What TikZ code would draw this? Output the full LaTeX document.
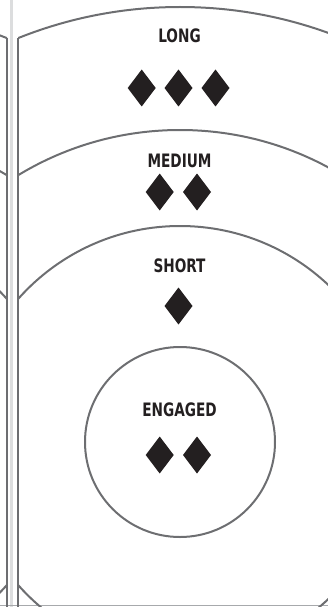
\documentclass[tikz,border=0pt]{standalone}
\usepackage{fontspec}
\newfontfamily\lblfont{DejaVu Sans Condensed}[FakeStretch=0.82]
\definecolor{edgegray}{HTML}{6D6E71}
\definecolor{ink}{HTML}{231F20}
\definecolor{bandgray}{HTML}{DCDDDE}
\definecolor{rulegray}{HTML}{A7A9AC}
\begin{document}
\begin{tikzpicture}[x=1pt,y=-1pt,
  edge/.style={draw=edgegray,line width=2pt},
  lbl/.style={font=\lblfont\bfseries\fontsize{18.5}{18.5}\selectfont,text=ink,anchor=base,inner sep=0pt},
  dia/.pic={\fill[ink] (0,-18.5)--(14,0)--(0,18.5)--(-14,0)--cycle;}]
\useasboundingbox (0,0) rectangle (328,607);
% light gray band and bottom rule
\fill[bandgray] (10,0) rectangle (13,607);
\draw[rulegray,line width=1pt] (0,605.5) -- (328,605.5);
% main panel
\coordinate (c) at (180,442);
\coordinate (ltop) at (18,38.3);
\coordinate (lbot) at (18,607);
\begin{scope}
  \clip (18,-200) rectangle (500,800);
  \draw[edge] (c) circle[radius=435pt];
  \draw[edge] (c) circle[radius=312pt];
  \draw[edge] (c) circle[radius=216pt];
  \draw[edge] (c) circle[radius=95pt];
\end{scope}
\draw[edge] (ltop) -- (lbot);
% neighbouring panel (left)
\coordinate (n) at (-155,442);
\coordinate (ntop) at (7,38.3);
\coordinate (nbot) at (7,607);
\begin{scope}
  \clip (-500,-200) rectangle (7,800);
  \draw[edge] (n) circle[radius=435pt];
  \draw[edge] (n) circle[radius=312pt];
  \draw[edge] (n) circle[radius=216pt];
\end{scope}
\draw[edge] (ntop) -- (nbot);
% labels
\node[lbl] (long) at (179.5,43) {LONG};
\node[lbl] (medium) at (179.5,167) {MEDIUM};
\node[lbl] (short) at (179.5,272) {SHORT};
\node[lbl] (engaged) at (179.5,416) {ENGAGED};
% diamonds
\pic (l1) at (141.7,88) {dia};
\pic (l2) at (178.5,88) {dia};
\pic (l3) at (215.5,88) {dia};
\pic (m1) at (159.7,192) {dia};
\pic (m2) at (197,192) {dia};
\pic (s1) at (178.5,306) {dia};
\pic (e1) at (159.7,455) {dia};
\pic (e2) at (197,455) {dia};
\end{tikzpicture}
\end{document}
